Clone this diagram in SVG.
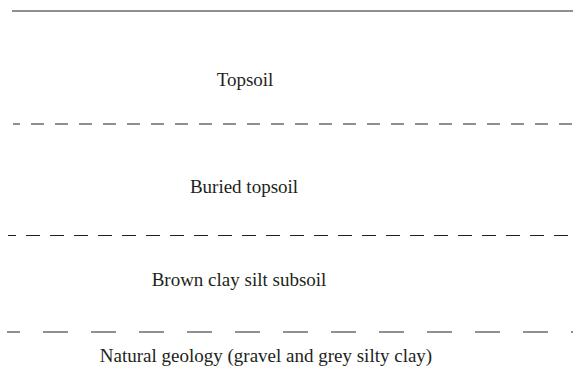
<svg xmlns="http://www.w3.org/2000/svg" width="573" height="372" viewBox="0 0 573 372">
<style>
.ln{stroke:#231f20;stroke-width:1;fill:none}
.lbl{font-family:"Liberation Serif","Times New Roman",serif;font-size:19px;fill:#231f20;text-anchor:middle}
</style>
<rect width="573" height="372" fill="#ffffff"/>
<g id="connectors">
<line class="ln" x1="12" y1="11" x2="573" y2="11"/>
<line class="ln" x1="13" y1="124" x2="573" y2="124" stroke-dasharray="13 11" stroke-dashoffset="6"/>
<line class="ln" x1="8" y1="235.5" x2="568" y2="235.5" stroke-dasharray="14 10" stroke-dashoffset="6"/>
<line class="ln" x1="7" y1="332" x2="573" y2="332" stroke-dasharray="25 23" stroke-dashoffset="12"/>
</g>
<g id="topsoil"><text class="lbl" x="245" y="86">Topsoil</text></g>
<g id="buried-topsoil"><text class="lbl" x="244" y="193">Buried topsoil</text></g>
<g id="subsoil"><text class="lbl" x="239" y="286">Brown clay silt subsoil</text></g>
<g id="natural"><text class="lbl" x="266" y="362">Natural geology (gravel and grey silty clay)</text></g>
</svg>
